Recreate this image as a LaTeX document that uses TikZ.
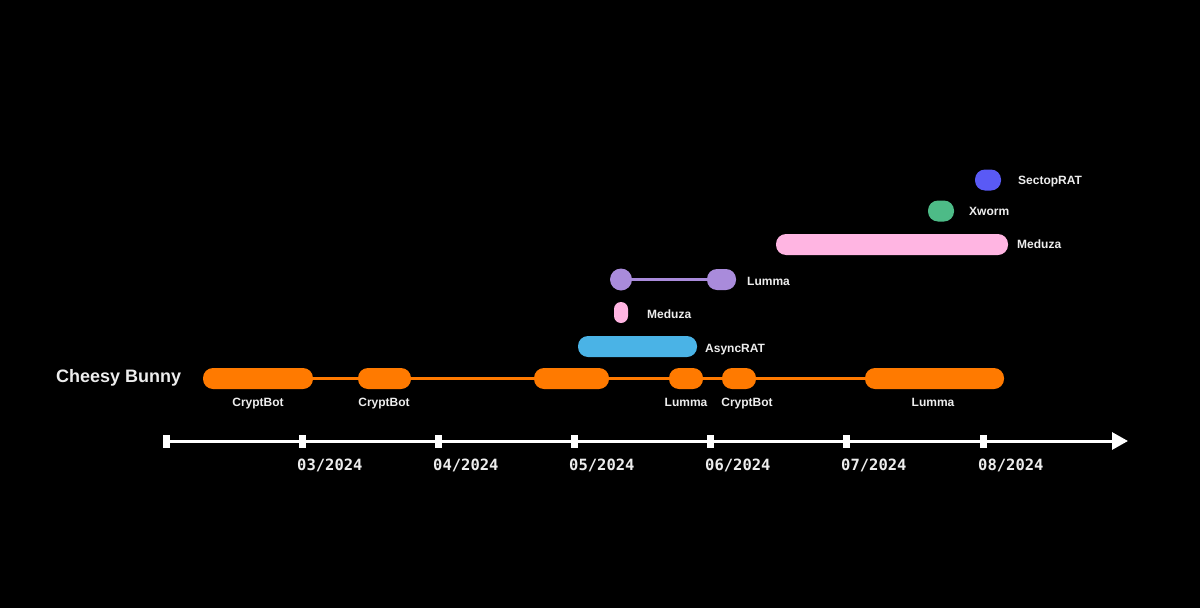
\documentclass[tikz,border=0pt]{standalone}
\usepackage{fontspec}
\setmainfont{Liberation Sans}
\newfontfamily\datefont{DejaVu Sans Mono}
\usetikzlibrary{arrows.meta}
\usetikzlibrary{calc}

\definecolor{bunnyorange}{HTML}{FF7A00}
\definecolor{asyncblue}{HTML}{4AB3E6}
\definecolor{meduzapink}{HTML}{FFB5E2}
\definecolor{lummapurple}{HTML}{A98BDB}
\definecolor{xwormgreen}{HTML}{4DBB87}
\definecolor{sectopblue}{HTML}{5A5AF6}
\definecolor{labelgrey}{HTML}{EDEDED}

\begin{document}
\begin{tikzpicture}[x=1pt,y=-1pt,%
  bar/.style={rectangle, rounded corners=10pt, inner sep=0pt,
              minimum height=21pt, fill=#1
  },
  lbl/.style={text=labelgrey, font=\fontsize{12}{14}\selectfont\bfseries,
              inner sep=0pt, text height=0.72em, text depth=0pt, yshift=-1.5pt
  },
  tick/.style={rectangle, fill=white, inner sep=0pt,
               minimum width=7pt, minimum height=13pt
  },
  datelbl/.style={text=labelgrey, font=\datefont\fontsize{15.5}{18}\selectfont\bfseries,
                  anchor=west, inner sep=0pt, text height=0.73em, text depth=0pt
  }
]
\fill[black] (0,0) rectangle (1200,608);
\useasboundingbox (0,0) rectangle (1200,608);

% the time axis
\foreach \name/\x in {t0/166, t3/302, t4/438, t5/574, t6/710, t7/846, t8/983} {
  \node [tick] (\name) at (\x,441) {};
}
\coordinate (axisend) at (1128,441);
\draw [white, line width=3pt, -{Triangle[length=16pt, width=17pt]}] (t0.center) -- (axisend);
\foreach \name/\m in {t3/03, t4/04, t5/05, t6/06, t7/07, t8/08} {
  \node [datelbl] at ($(\name.center) + (-5,26)$) {\m/2024};
}

% Cheesy Bunny track
\node [lbl, anchor=west, font=\fontsize{18}{20}\selectfont\bfseries] (bunny) at (56,377) {Cheesy Bunny};

\node [bar=bunnyorange, minimum width=110pt] (cb1) at (258,378.5) {};
\node [bar=bunnyorange, minimum width=53pt] (cb2) at (384.5,378.5) {};
\node [bar=bunnyorange, minimum width=75pt] (cb3) at (571.5,378.5) {};
\node [bar=bunnyorange, minimum width=34pt] (cb4) at (686,378.5) {};
\node [bar=bunnyorange, minimum width=34pt] (cb5) at (739,378.5) {};
\node [bar=bunnyorange, minimum width=139pt] (cb6) at (934.5,378.5) {};
\draw [bunnyorange, line width=3.5pt] (cb1.east) -- (cb2.west)
      (cb2.east) -- (cb3.west) (cb3.east) -- (cb4.west)
      (cb4.east) -- (cb5.west) (cb5.east) -- (cb6.west);

\node [lbl] at (258,401) {CryptBot};
\node [lbl] at (384,401) {CryptBot};
\node [lbl] at (686,401) {Lumma};
\node [lbl] at (747,401) {CryptBot};
\node [lbl] at (933,401) {Lumma};

% AsyncRAT
\node [bar=asyncblue, minimum width=119pt] (async) at (637.5,346.5) {};
\node [lbl, anchor=west] at (705,347) {AsyncRAT};

% Meduza (short)
\node [bar=meduzapink, rounded corners=7pt, minimum width=14pt] (med1) at (621,312.5) {};
\node [lbl, anchor=west] at (647,313) {Meduza};

% Lumma
\node [circle, fill=lummapurple, minimum size=22pt, inner sep=0pt] (lu1) at (621,279.5) {};
\node [bar=lummapurple, minimum width=29pt] (lu2) at (721.5,279.5) {};
\draw [lummapurple, line width=3.5pt] (lu1.east) -- (lu2.west);
\node [lbl, anchor=west] at (747,280) {Lumma};

% Meduza (long)
\node [bar=meduzapink, minimum width=232pt] (med2) at (892,244.5) {};
\node [lbl, anchor=west] at (1017,243) {Meduza};

% Xworm and SectopRAT
\node [bar=xwormgreen, minimum width=26pt] (xworm) at (941,211) {};
\node [lbl, anchor=west] at (969,210) {Xworm};

\node [bar=sectopblue, minimum width=26pt] (sectop) at (988,180) {};
\node [lbl, anchor=west] at (1018,179) {SectopRAT};
\end{tikzpicture}
\end{document}
